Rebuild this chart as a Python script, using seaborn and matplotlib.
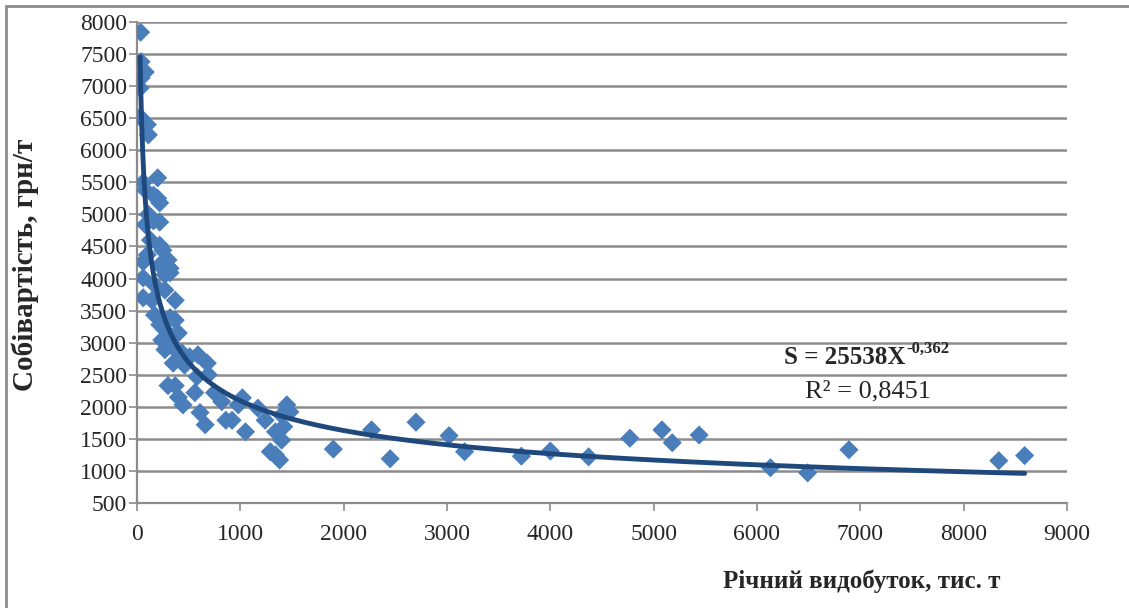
import numpy as np
import pandas as pd
import matplotlib
matplotlib.use("Agg")
import matplotlib.pyplot as plt
import seaborn as sns
from matplotlib.patches import Rectangle

# ---- data ----
output_kt = [35, 40, 80, 40, 30, 30, 100, 110, 60, 200, 80, 160, 220, 200, 110, 160, 220, 80,
             130, 220, 250, 100, 60, 300, 220, 320, 270, 60, 320, 170, 270, 60, 145, 370,
             170, 320, 220, 370, 270, 400, 240, 320, 270, 370, 435, 510, 590, 350, 460, 680,
             690, 580, 300, 370, 560, 750, 400, 445, 820, 610, 660, 980, 1020, 920, 860, 1050,
             1170, 1240, 1340, 1400, 1290, 1340, 1380, 1450, 1400, 1480, 1420, 1900, 2270, 2450,
             2700, 3020, 3170, 3720, 4000, 4370, 4770, 5080, 5180, 5440, 6130, 6490, 6890,
             8340, 8590]
cost_uah = [7840, 7380, 7220, 7130, 6970, 6520, 6400, 6240, 5500, 5570, 5380, 5300, 5180, 5250,
            5000, 4900, 4880, 4840, 4600, 4520, 4440, 4370, 4260, 4290, 4210, 4160, 4060, 4010,
            4090, 3900, 3820, 3700, 3660, 3660, 3430, 3390, 3280, 3350, 3200, 3150, 3040, 3000,
            2890, 2890, 2840, 2780, 2810, 2680, 2650, 2680, 2500, 2470, 2330, 2330, 2220, 2220,
            2150, 2030, 2080, 1910, 1720, 2030, 2140, 1790, 1790, 1610, 1980, 1790, 1610, 1480,
            1300, 1250, 1170, 2030, 1870, 1920, 1690, 1340, 1640, 1190, 1760, 1550, 1300, 1230,
            1310, 1220, 1510, 1640, 1440, 1560, 1050, 970, 1330, 1160, 1240]
fit_a = 25538
fit_b = -0.362
eq_main = "S = 25538X"
eq_exp = "-0,362"
r2_text = "R² = 0,8451"
x_ticks = [0, 1000, 2000, 3000, 4000, 5000, 6000, 7000, 8000, 9000]
y_ticks = [500, 1000, 1500, 2000, 2500, 3000, 3500, 4000, 4500, 5000, 5500, 6000, 6500, 7000, 7500, 8000]
x_title = "Річний видобуток, тис. т"
y_title = "Собівартість, грн/т"

df = pd.DataFrame({"x": output_kt, "y": cost_uah})
xs = np.geomspace(df["x"].min(), df["x"].max(), 400)
trend = pd.DataFrame({"x": xs, "y": fit_a * xs ** fit_b})

# ---- style ----
sns.set_theme(style="white")
plt.rcParams["font.family"] = ["Liberation Serif", "DejaVu Serif"]

fig = plt.figure(figsize=(11.29, 6.08), dpi=100)
ax = fig.add_axes([137 / 1129, 1 - 503 / 608, (1067 - 137) / 1129, (503 - 22) / 608])

grid_c = "#8c8c8c"
for yv in y_ticks:
    ax.axhline(yv, color=grid_c, lw=1.8, zorder=0)

sns.scatterplot(data=df, x="x", y="y", marker="D", s=95, color="#4A7EBB",
                edgecolor="none", linewidth=0, ax=ax, zorder=3)
sns.lineplot(data=trend, x="x", y="y", color="#1F497D", lw=3.5, ax=ax, zorder=4)

ax.set_xlim(0, 9000)
ax.set_ylim(500, 8000)
ax.set_xticks(x_ticks)
ax.set_yticks(y_ticks)
ax.set_xticklabels([str(v) for v in x_ticks], fontsize=17)
ax.set_yticklabels([str(v) for v in y_ticks], fontsize=17)
ax.tick_params(axis="both", which="both", direction="out", length=6, width=1.2,
               color=grid_c, bottom=True, left=True)
ax.tick_params(axis="y", pad=1)
ax.tick_params(axis="x", pad=9)
for s in ["top", "right"]:
    ax.spines[s].set_visible(False)
for s in ["left", "bottom"]:
    ax.spines[s].set_color(grid_c)
    ax.spines[s].set_linewidth(1.6)
ax.set_xlabel("")
ax.set_ylabel("")

fig.text(862 / 1129, 1 - 581 / 608, x_title, ha="center", va="center",
         fontsize=18, fontweight="bold")
fig.text(25 / 1129, 1 - 265 / 608, y_title, ha="center", va="center",
         rotation=90, fontsize=21, fontweight="bold")

# trendline equation: main part + superscript exponent
fig.text(905 / 1129, 1 - 358 / 608, eq_main, ha="right", va="center",
         fontsize=18, fontweight="bold")
fig.text(906 / 1129, 1 - 349 / 608, eq_exp, ha="left", va="center",
         fontsize=12, fontweight="bold")
fig.text(868 / 1129, 1 - 391 / 608, r2_text, ha="center", va="center", fontsize=19)

# outer chart border (left and top visible)
fig.patches.append(Rectangle((6 / 1129, -0.05), 1.2, 1 - 6 / 608 + 0.05,
                             transform=fig.transFigure, fill=False,
                             edgecolor="#8c8c8c", lw=2))

fig.savefig("out.png", dpi=100)
